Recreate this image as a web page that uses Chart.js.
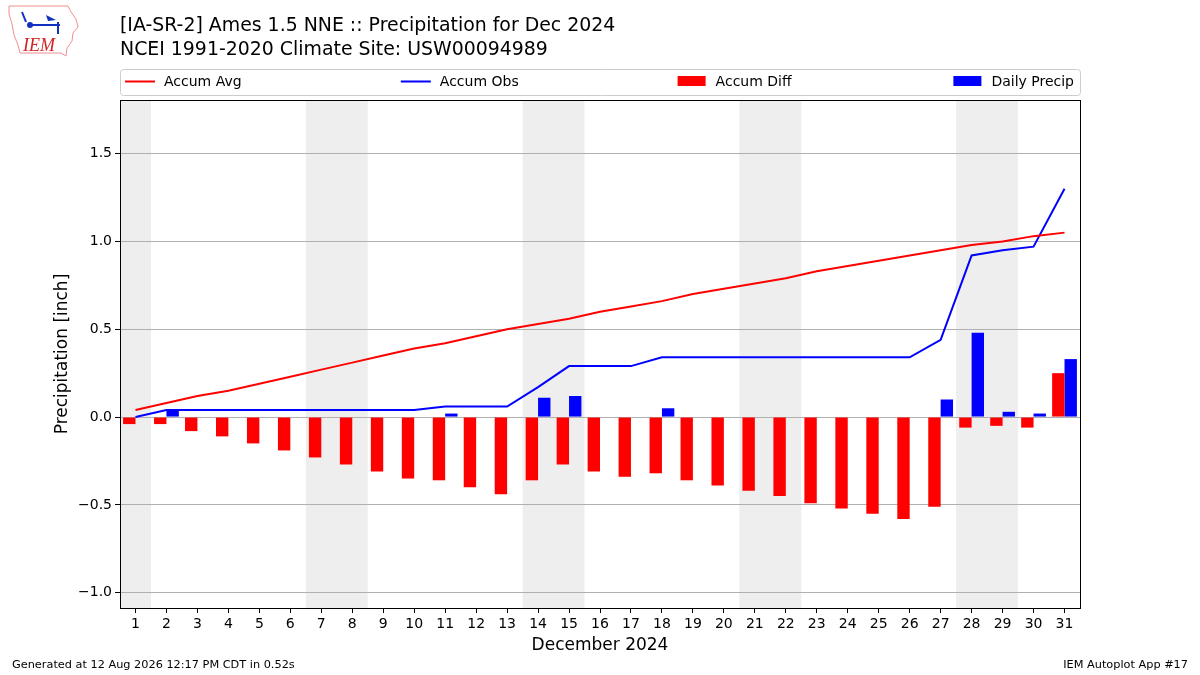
<!DOCTYPE html>
<html>
<head>
<meta charset="utf-8">
<title>Ames 1.5 NNE Precipitation Dec 2024</title>
<script src="https://cdn.jsdelivr.net/npm/chart.js@4.4.1/dist/chart.umd.min.js"></script>
<style>
	html, body { margin: 0; padding: 0; background: #fff; }
	#wrap { position: relative; width: 1200px; height: 675px; font-family: "DejaVu Sans", sans-serif; }
	#myChart { position: absolute; left: 0; top: 0; }
	.txt { position: absolute; white-space: nowrap; color: #000; line-height: 1; }
</style>
</head>
<body>
<div id="wrap">
	<canvas id="myChart" width="1200" height="675"></canvas>
	<div class="txt" style="left:120px; top:14.5px; font-size:18.9px;">[IA-SR-2] Ames 1.5 NNE :: Precipitation for Dec 2024</div>
	<div class="txt" style="left:120px; top:38.5px; font-size:18.9px;">NCEI 1991-2020 Climate Site: USW00094989</div>
	<div class="txt" style="left:12px; top:659px; font-size:11.3px;">Generated at 12 Aug 2026 12:17 PM CDT in 0.52s</div>
	<div class="txt" style="right:12px; top:659px; font-size:11.3px;">IEM Autoplot App #17</div>
	<div class="txt" style="left:23px; top:35px; font: italic 18px 'Liberation Serif', serif; color:#d42020;">IEM</div>
</div>
<script>
let days = ["1", "2", "3", "4", "5", "6", "7", "8", "9", "10", "11", "12", "13", "14", "15", "16",
	"17", "18", "19", "20", "21", "22", "23", "24", "25", "26", "27", "28", "29", "30", "31"];

// weekend days (Sat/Sun) get the gray band
let weekendDays = [1, 7, 8, 14, 15, 21, 22, 28, 29];

let accumAvg = [0.04, 0.08, 0.12, 0.15, 0.19, 0.23, 0.27, 0.31, 0.35, 0.39, 0.42, 0.46, 0.50, 0.53, 0.56, 0.60,
	0.63, 0.66, 0.70, 0.73, 0.76, 0.79, 0.83, 0.86, 0.89, 0.92, 0.95, 0.98, 1.00, 1.03, 1.05];

let accumObs = [0.00, 0.04, 0.04, 0.04, 0.04, 0.04, 0.04, 0.04, 0.04, 0.04, 0.06, 0.06, 0.06, 0.17, 0.29, 0.29,
	0.29, 0.34, 0.34, 0.34, 0.34, 0.34, 0.34, 0.34, 0.34, 0.34, 0.44, 0.92, 0.95, 0.97, 1.30];

let accumDiff = [-0.04, -0.04, -0.08, -0.11, -0.15, -0.19, -0.23, -0.27, -0.31, -0.35, -0.36, -0.40, -0.44, -0.36, -0.27, -0.31,
	-0.34, -0.32, -0.36, -0.39, -0.42, -0.45, -0.49, -0.52, -0.55, -0.58, -0.51, -0.06, -0.05, -0.06, 0.25];

let dailyPrecip = [0, 0.04, 0, 0, 0, 0, 0, 0, 0, 0, 0.02, 0, 0, 0.11, 0.12, 0,
	0, 0.05, 0, 0, 0, 0, 0, 0, 0, 0, 0.10, 0.48, 0.03, 0.02, 0.33];

let fontName = "'DejaVu Sans', sans-serif";

// white page, weekend bands behind the grid
let backdrop = {
	id: "backdrop",
	beforeDraw(chart) {
		let ctx = chart.ctx;
		let area = chart.chartArea;
		let x = chart.scales.x;
		let half = (x.getPixelForValue(1) - x.getPixelForValue(0)) / 2;
		ctx.save();
		ctx.fillStyle = "#fff";
		ctx.fillRect(0, 0, chart.width, chart.height);
		ctx.fillStyle = "#eeeeee";
		let i = 0;
		while (i < weekendDays.length) {
			let start = weekendDays[i];
			let end = start;
			while (i + 1 < weekendDays.length && weekendDays[i + 1] === end + 1) {
				i++;
				end = weekendDays[i];
			}
			let x0 = x.getPixelForValue(start - 1) - half;
			let x1 = x.getPixelForValue(end - 1) + half;
			ctx.fillRect(x0, area.top, x1 - x0, area.bottom - area.top);
			i++;
		}

		// little IEM logo outline
		ctx.strokeStyle = "#f09090";
		ctx.lineWidth = 1;
		ctx.beginPath();
		let pts = [[9, 6], [68, 6], [71, 12], [76, 19], [78, 27], [73, 33], [72, 41], [67, 48], [66, 56],
			[61, 53], [20, 53], [18, 45], [14, 35], [12, 24], [9, 14]];
		ctx.moveTo(pts[0][0], pts[0][1]);
		for (let p of pts.slice(1)) ctx.lineTo(p[0], p[1]);
		ctx.closePath();
		ctx.stroke();
		ctx.strokeStyle = "#1030c0";
		ctx.lineWidth = 2;
		ctx.beginPath();
		ctx.moveTo(30, 25);
		ctx.lineTo(60, 25);
		ctx.moveTo(22, 12);
		ctx.lineTo(26, 22);
		ctx.moveTo(58, 22);
		ctx.lineTo(58, 34);
		ctx.stroke();
		ctx.fillStyle = "#1030c0";
		ctx.beginPath();
		ctx.arc(30, 25, 3, 0, Math.PI * 2);
		ctx.fill();
		ctx.beginPath();
		ctx.moveTo(46, 15);
		ctx.lineTo(56, 20);
		ctx.lineTo(48, 21);
		ctx.fill();
		ctx.restore();
	},
};

// axes frame and the wide legend above the plot
let frameAndLegend = {
	id: "frameAndLegend",
	afterDraw(chart) {
		let ctx = chart.ctx;
		let area = chart.chartArea;
		ctx.save();
		ctx.strokeStyle = "#000";
		ctx.lineWidth = 1;
		ctx.strokeRect(Math.round(area.left) + 0.5, Math.round(area.top) + 0.5,
			Math.round(area.right - area.left), Math.round(area.bottom - area.top));

		ctx.fillStyle = "#fff";
		ctx.strokeStyle = "#cccccc";
		ctx.beginPath();
		ctx.roundRect(area.left + 0.5, 69.5, area.right - area.left, 26, 3);
		ctx.fill();
		ctx.stroke();

		ctx.font = "14px " + fontName;
		ctx.textBaseline = "middle";
		chart.data.datasets.forEach((ds, i) => {
			let x0 = area.left + 5 + i * 275.8;
			if (ds.type === "line") {
				ctx.strokeStyle = ds.borderColor;
				ctx.lineWidth = 2;
				ctx.beginPath();
				ctx.moveTo(x0, 81.5);
				ctx.lineTo(x0 + 30, 81.5);
				ctx.stroke();
			} else {
				ctx.fillStyle = ds.backgroundColor;
				ctx.fillRect(x0 + 1, 76, 28, 10);
			}
			ctx.fillStyle = "#000";
			ctx.fillText(ds.label, x0 + 39, 82);
		});
		ctx.restore();
	},
};

var ctx = document.getElementById("myChart").getContext("2d");
var chart = new Chart(ctx, {
	type: "bar",
	data: {
		labels: days,
		datasets: [
			{
				type: "line",
				label: "Accum Avg",
				data: accumAvg,
				borderColor: "#ff0000",
				backgroundColor: "#ff0000",
				borderWidth: 2,
				pointRadius: 0,
				tension: 0,
			},
			{
				type: "line",
				label: "Accum Obs",
				data: accumObs,
				borderColor: "#0000ff",
				backgroundColor: "#0000ff",
				borderWidth: 2,
				pointRadius: 0,
				tension: 0,
			},
			{
				label: "Accum Diff",
				data: accumDiff,
				backgroundColor: "#ff0000",
				borderWidth: 0,
			},
			{
				label: "Daily Precip",
				data: dailyPrecip,
				backgroundColor: "#0000ff",
				borderWidth: 0,
			},
		],
	},
	options: {
		responsive: false,
		animation: false,
		devicePixelRatio: 1,
		categoryPercentage: 0.8,
		barPercentage: 1.0,
		layout: {
			padding: { left: 0, top: 100, right: 120, bottom: 0 },
		},
		plugins: {
			legend: { display: false },
			tooltip: { enabled: false },
		},
		scales: {
			x: {
				offset: true,
				afterFit: (scale) => {
					scale.height = 67;
				},
				border: { display: false },
				grid: {
					offset: false,
					drawOnChartArea: false,
					drawTicks: true,
					tickLength: 5,
					tickColor: "#000",
				},
				ticks: {
					color: "#000",
					font: { family: fontName, size: 14 },
					padding: 3,
					maxRotation: 0,
					autoSkip: false,
				},
				title: {
					display: true,
					text: "December 2024",
					color: "#000",
					font: { family: fontName, size: 17 },
					padding: { top: 0, bottom: 19 },
				},
			},
			y: {
				min: -1.087,
				max: 1.805,
				afterFit: (scale) => {
					scale.width = 120;
				},
				border: { display: false },
				grid: {
					color: "#b0b0b0",
					lineWidth: 1,
					tickLength: 5,
					tickColor: "#000",
				},
				ticks: {
					stepSize: 0.5,
					includeBounds: false,
					color: "#000",
					font: { family: fontName, size: 14 },
					padding: 3,
					callback: (v) => (v < 0 ? "\u2212" : "") + Math.abs(v).toFixed(1),
				},
				title: {
					display: true,
					text: "Precipitation [inch]",
					color: "#000",
					font: { family: fontName, size: 17 },
					padding: { top: 52, bottom: 0 },
				},
			},
		},
	},
	plugins: [backdrop, frameAndLegend],
});
</script>
</body>
</html>
